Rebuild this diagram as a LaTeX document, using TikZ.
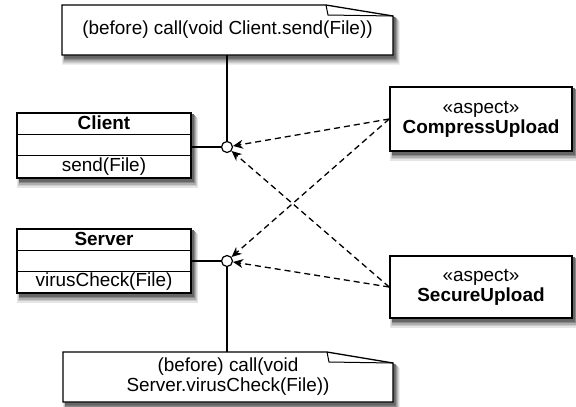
\documentclass[tikz,border=0pt]{standalone}
\usepackage{fontspec}
\setmainfont{Liberation Sans}
\usetikzlibrary{calc,arrows.meta}
\newcommand\boxshade[4]{%
  \foreach \ax/\ay/\bx/\by/\shadecol in {0/5/6.5/9.5/10, 1/4/5.5/8/20, 1.5/3/4.5/6.5/32, 2/2/3.5/5/46, 2/1/2.5/3.5/60}{
    \fill[black!\shadecol] (#1+\ax,#2+\ay) rectangle (#3+\bx,#4+\by);}
}
\newcommand\noteshade[5]{%
  \foreach \ax/\ay/\bx/\by/\shadecol in {0/5/6.5/9.5/10, 1/4/5.5/8/20, 1.5/3/4.5/6.5/32, 2/2/3.5/5/46, 2/1/2.5/3.5/60}{
    \fill[black!\shadecol] (#1+\ax,#2+\ay) -- (#3-#5+\bx,#2+\ay) -- (#3+\bx,#2+11+\ay) -- (#3+\bx,#4+\by) -- (#1+\ax,#4+\by) -- cycle;}
}
\begin{document}
\begin{tikzpicture}[x=1bp,y=-1bp,
  every node/.style={font=\fontsize{19}{20}\selectfont},
  classbox/.style={draw, line width=1.6bp, fill=white, minimum width=174bp, inner sep=0},
  aspectbox/.style={draw, line width=1.6bp, fill=white, minimum width=182bp, align=center, inner sep=0},
  notebox/.style={minimum height=50bp, inner sep=0, align=center},
  noteline/.style={line width=1.3bp, fill=white},
  sep/.style={line width=1.3bp},
  joint/.style={circle, draw, fill=white, line width=1.2bp, minimum size=11bp, inner sep=0},
  link/.style={line width=1.1bp},
  dep/.style={line width=1.3bp, dash pattern=on 6bp off 4bp, -{Stealth[length=10bp,width=9bp]}}
]
\useasboundingbox (0,0) rectangle (576,406);

% shadows
\noteshade{62}{5}{393}{55}{67}
\noteshade{63}{352}{393}{402}{66}
\boxshade{17}{113}{191}{178}
\boxshade{17}{229}{191}{293}
\boxshade{390}{87}{572}{151}
\boxshade{390}{256}{572}{318}

% note outlines
\coordinate (tnw) at (62,5);
\coordinate (tse) at (393,55);
\coordinate (bnw) at (63,352);
\coordinate (bse) at (393,402);
\draw[noteline] (tnw) -- ($(tse |- tnw)+(-67,0)$) -- ($(tse |- tnw)+(0,11)$) -- (tse) -- (tnw |- tse) -- cycle;
\draw[line width=1bp] ($(tse |- tnw)+(-67,0)$) -- ($(tse |- tnw)+(-65,10)$) -- ($(tse |- tnw)+(0,11)$);
\draw[noteline] (bnw) -- ($(bse |- bnw)+(-66,0)$) -- ($(bse |- bnw)+(0,11)$) -- (bse) -- (bnw |- bse) -- cycle;
\draw[line width=1bp] ($(bse |- bnw)+(-66,0)$) -- ($(bse |- bnw)+(-64,10)$) -- ($(bse |- bnw)+(0,11)$);

% notes
\node[notebox, minimum width=331bp] (topnote) at ($(tnw)!0.5!(tse)$) {(before) call(void Client.send(File))};
\node[notebox, minimum width=330bp] (botnote) at ($(bnw)!0.5!(bse)$) {(before) call(void\\Server.virusCheck(File))};

% classes
\node[classbox, minimum height=65bp] (client) at (104,145.5) {};
\draw[sep] ($(client.north west)+(0,22)$) -- ($(client.north east)+(0,22)$);
\draw[sep] ($(client.north west)+(0,43)$) -- ($(client.north east)+(0,43)$);
\node[font=\fontsize{19}{20}\selectfont\bfseries] (clientname) at ($(client.north)+(0,11)$) {Client};
\node (clientop) at ($(client.north)+(0,54)$) {send(File)};

\node[classbox, minimum height=64bp] (server) at (104,261) {};
\draw[sep] ($(server.north west)+(0,22)$) -- ($(server.north east)+(0,22)$);
\draw[sep] ($(server.north west)+(0,43)$) -- ($(server.north east)+(0,43)$);
\node[font=\fontsize{19}{20}\selectfont\bfseries] (servername) at ($(server.north)+(0,11)$) {Server};
\node (serverop) at ($(server.north)+(0,53.5)$) {virusCheck(File)};

% joinpoints
\node[joint] (cc) at (227,147) {};
\node[joint] (sc) at (227,261) {};
\draw[link] (client.east |- cc) -- (cc);
\draw[link] (server.east |- sc) -- (sc);
\draw[link] (cc |- topnote.south) -- (cc);
\draw[link] (sc) -- (sc |- botnote.north);

% aspects
\node[aspectbox, minimum height=64bp] (comp) at (481,119) {«aspect»\\\textbf{CompressUpload}};
\node[aspectbox, minimum height=62bp] (sec) at (481,287) {«aspect»\\\textbf{SecureUpload}};

\draw[dep] (comp.west) -- (cc);
\draw[dep] (comp.west) -- (sc);
\draw[dep] (sec.west) -- (cc);
\draw[dep] (sec.west) -- (sc);
\end{tikzpicture}
\end{document}
